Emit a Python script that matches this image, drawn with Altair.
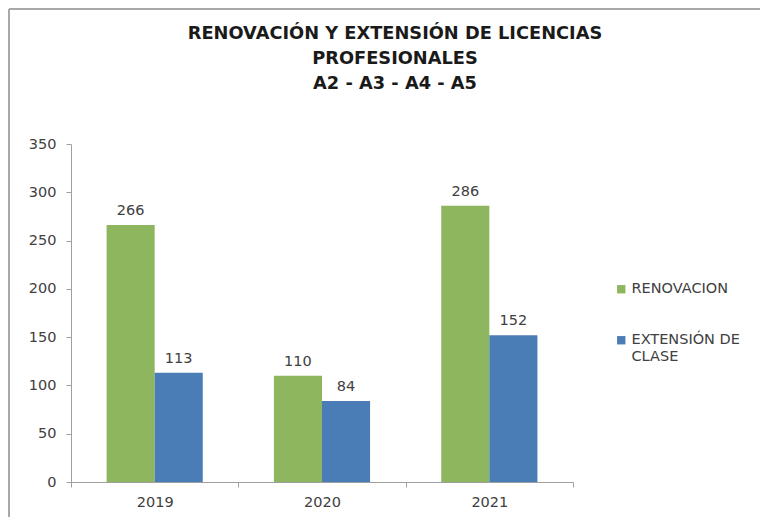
import altair as alt
import pandas as pd

years = ["2019", "2020", "2021"]
renovacion = [266, 110, 286]
extension = [113, 84, 152]
series = ["RENOVACION", "EXTENSIÓN DE CLASE"]
colors = ["#8DB65E", "#4A7DB6"]
title_lines = ["RENOVACIÓN Y EXTENSIÓN DE LICENCIAS", "PROFESIONALES", "A2 - A3 - A4 - A5"]
y_ticks = [0, 50, 100, 150, 200, 250, 300, 350]

rows = []
for i, yr in enumerate(years):
    rows.append({"year": yr, "serie": series[0], "value": renovacion[i]})
    rows.append({"year": yr, "serie": series[1], "value": extension[i]})
df = pd.DataFrame(rows)

W, H = 502, 338
FONT = "DejaVu Sans"
TXT = "#404040"

base = alt.Chart(df).encode(
    x=alt.X(
        "year:N", sort=years, title=None,
        scale=alt.Scale(paddingInner=0, paddingOuter=0),
        axis=alt.Axis(labelAngle=0, tickBand="extent", tickSize=5, labelPadding=8,
                      labelFont=FONT, labelFontSize=14.5, labelColor=TXT,
                      domainColor="#A0A0A0", tickColor="#A0A0A0"),
    ),
    xOffset=alt.XOffset("serie:N", sort=series,
                        scale=alt.Scale(paddingInner=0, paddingOuter=0.74)),
    y=alt.Y(
        "value:Q", title=None,
        scale=alt.Scale(domain=[0, 350], nice=False),
        axis=alt.Axis(values=y_ticks, grid=False, tickSize=5, labelPadding=10,
                      labelFont=FONT, labelFontSize=14.5, labelColor=TXT,
                      domainColor="#A0A0A0", tickColor="#A0A0A0"),
    ),
)

bars = base.mark_bar().encode(
    color=alt.Color(
        "serie:N", sort=series,
        scale=alt.Scale(domain=series, range=colors),
        legend=alt.Legend(
            title=None, orient="none", legendX=543, legendY=138,
            symbolType="square", symbolSize=70, symbolStrokeWidth=0,
            labelFont=FONT, labelFontSize=14.5, labelColor=TXT,
            rowPadding=36, labelOffset=3,
            labelExpr="datum.label == 'EXTENSIÓN DE CLASE' ? ['EXTENSIÓN DE', 'CLASE'] : datum.label",
        ),
    )
)

labels = base.mark_text(baseline="bottom", dy=-7, font=FONT, fontSize=14.5, color=TXT).encode(
    text="value:Q"
)

frame_data = alt.Data(values=[{"k": 1}])
left_line = alt.Chart(frame_data).mark_rule(color="#A8A8A8", strokeWidth=2).encode(
    x=alt.value(-62), y=alt.value(-135), y2=alt.value(H + 40)
)
top_line = alt.Chart(frame_data).mark_rule(color="#A8A8A8", strokeWidth=2).encode(
    x=alt.value(-62), x2=alt.value(W + 200), y=alt.value(-135)
)

title_marks = [
    alt.Chart(frame_data).mark_text(
        font=FONT, fontSize=17.8, fontWeight="bold", color="#1A1A1A", baseline="middle", align="center"
    ).encode(x=alt.value(W / 2 + 73), y=alt.value(-110 + 25 * i), text=alt.value(line))
    for i, line in enumerate(title_lines)
]

chart = alt.layer(left_line, top_line, *title_marks, bars, labels).properties(
    width=W, height=H,
    autosize=alt.AutoSizeParams(type="none"),
    padding={"left": 63, "top": 136, "right": 187, "bottom": 35},
    background="white",
).configure_view(stroke=None)

chart.save("out.html", embed_options={"renderer": "svg", "actions": False})
